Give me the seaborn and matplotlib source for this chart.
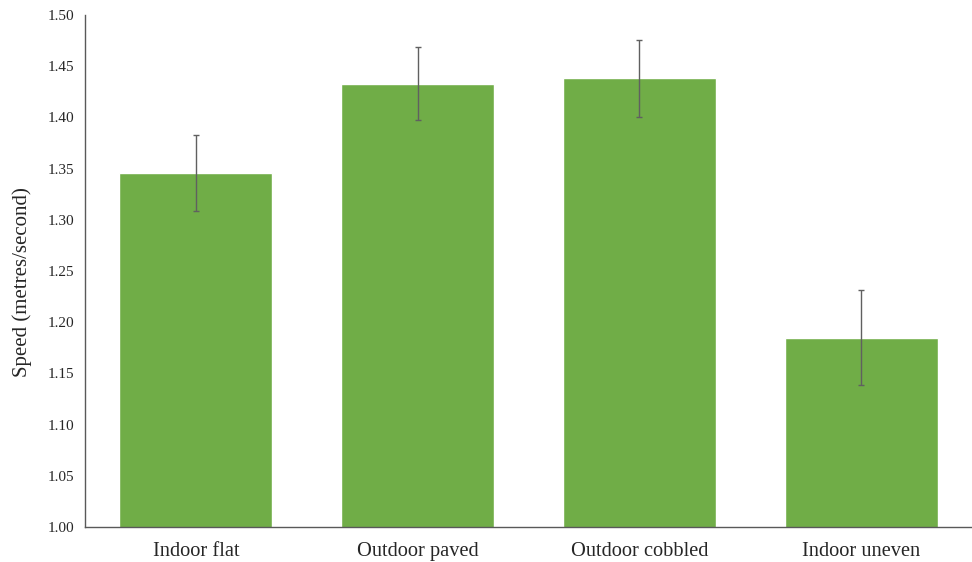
import matplotlib
matplotlib.use('Agg')
import matplotlib.pyplot as plt
import seaborn as sns
import pandas as pd

# ========= DADOS =========
surfaces = ['Indoor flat', 'Outdoor paved', 'Outdoor cobbled', 'Indoor uneven']
speed = [1.346, 1.433, 1.438, 1.185]
speed_err = [0.037, 0.036, 0.038, 0.046]

df = pd.DataFrame({'surface': surfaces, 'speed': speed, 'err': speed_err})

sns.set_style('white')
plt.rcParams['font.family'] = ['Liberation Serif', 'DejaVu Serif']

fig = plt.figure(figsize=(9.72, 5.62), dpi=100)
ax = fig.add_axes([85 / 972, 35 / 562, 887 / 972, 512 / 562])

sns.barplot(data=df, x='surface', y='speed', color='#70AD47', saturation=1,
            width=0.69, errorbar=None, ax=ax)
ax.errorbar(range(len(surfaces)), df['speed'], yerr=df['err'], fmt='none',
            ecolor='#606060', elinewidth=1, capsize=2.2, capthick=1)

ax.set_ylim(1.00, 1.50)
ax.set_xlim(-0.5, 3.5)
ax.set_yticks([1.00 + 0.05 * i for i in range(11)])
ax.set_yticklabels([f'{1.00 + 0.05 * i:.2f}' for i in range(11)], fontsize=11)
ax.tick_params(axis='x', labelsize=14.7, length=0, pad=11)
ax.tick_params(axis='y', length=0, pad=7.5)
ax.set_xlabel('')
ax.set_ylabel('Speed (metres/second)', fontsize=15)
ax.yaxis.set_label_coords(-0.06, 0.478)

for s in ['top', 'right']:
    ax.spines[s].set_visible(False)
for s in ['left', 'bottom']:
    ax.spines[s].set_color('#595959')
    ax.spines[s].set_linewidth(1)

fig.savefig('out.png', dpi=100)
